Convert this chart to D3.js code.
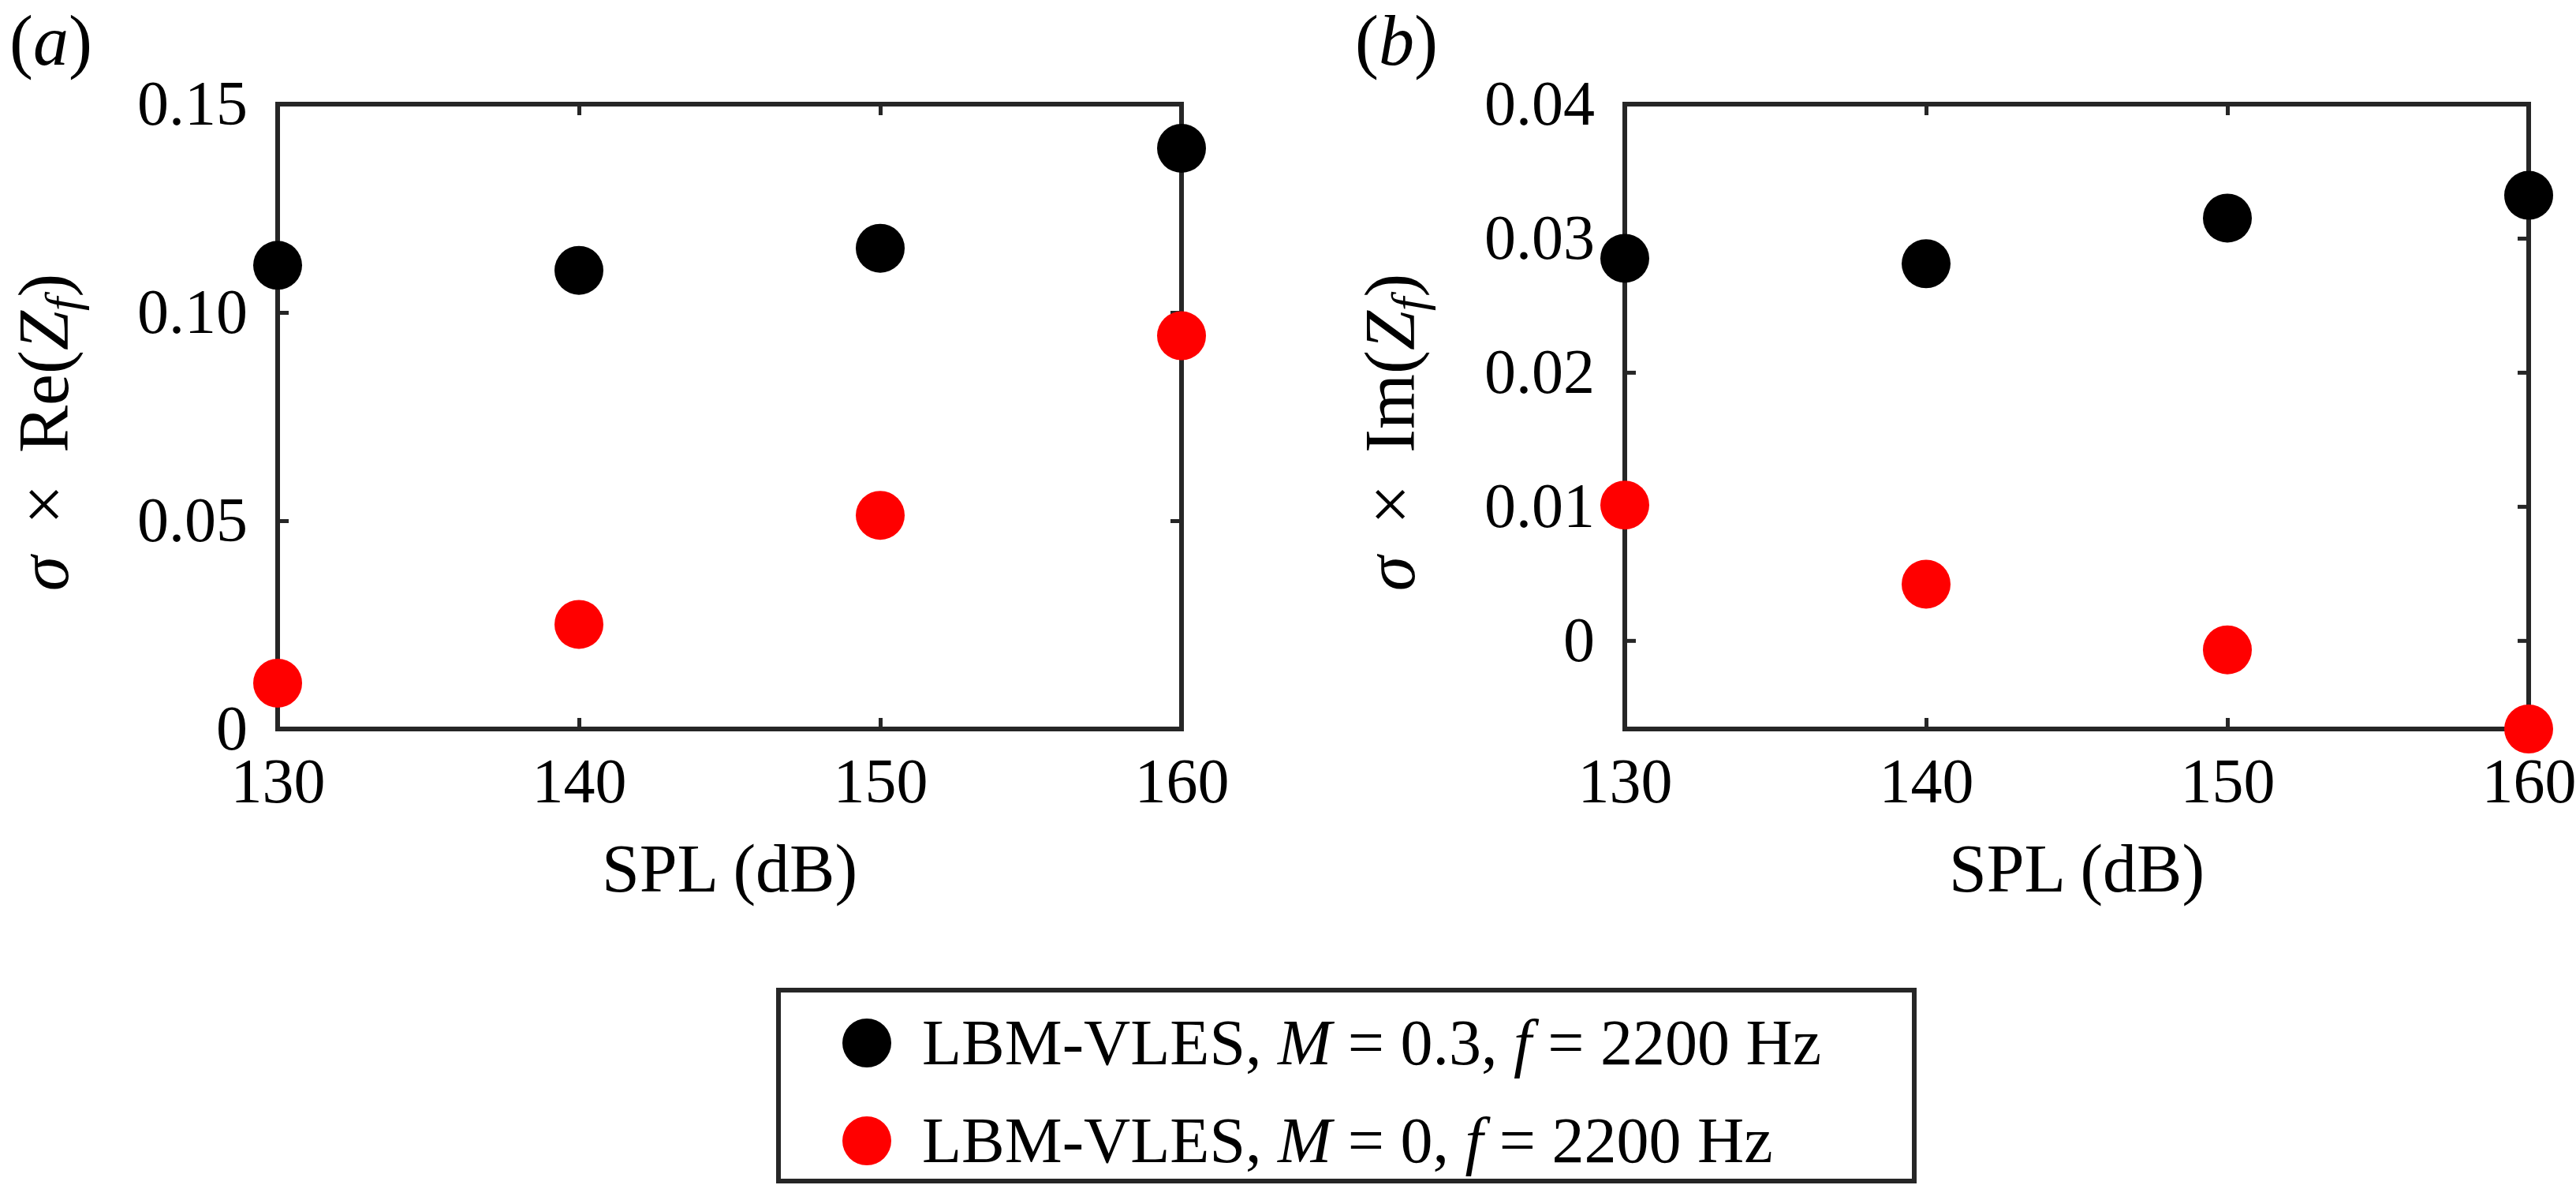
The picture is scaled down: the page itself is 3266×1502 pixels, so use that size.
<!DOCTYPE html>
<html><head><meta charset="utf-8">
<script src="https://cdn.jsdelivr.net/npm/d3@7"></script>
<style>
html,body{margin:0;padding:0;background:#fff;}
svg{display:block;font-family:"Liberation Serif","Times New Roman",serif;}
</style></head>
<body>
<svg id="chart" width="3266" height="1502"></svg>
<script>
// ---- data ----
const spl = [130, 140, 150, 160];
const reBlack = [0.1113, 0.1101, 0.1154, 0.1394];
const reRed = [0.0110, 0.0251, 0.0513, 0.0944];
const imBlack = [0.0285, 0.0281, 0.0315, 0.0332];
const imRed = [0.0101, 0.0042, -0.0007, -0.0066];
const xTicks = [130, 140, 150, 160];
const yTicksA = [0, 0.05, 0.10, 0.15];
const yTickLabelsA = ["0", "0.05", "0.10", "0.15"];
const yTicksB = [0, 0.01, 0.02, 0.03, 0.04];
const yTickLabelsB = ["0", "0.01", "0.02", "0.03", "0.04"];
const legendLabels = [
  [["LBM-VLES, ", false], ["M", true], [" = 0.3, ", false], ["f", true], [" = 2200 Hz", false]],
  [["LBM-VLES, ", false], ["M", true], [" = 0, ", false], ["f", true], [" = 2200 Hz", false]]
];
const seriesColors = ["#000000", "#ff0000"];

const svg = d3.select("#chart");
const axisColor = "#262626";
const R = 31;

function panel(opt) {
  const {x0, x1, y0, y1, yDomain, yTicks, yLabels, black, red, tag, tagX, ylabParts, ylabX} = opt;
  const x = d3.scaleLinear().domain([130, 160]).range([x0, x1]);
  const y = d3.scaleLinear().domain(yDomain).range([y1, y0]);
  const g = svg.append("g");

  g.append("rect").attr("x", x0).attr("y", y0).attr("width", x1 - x0).attr("height", y1 - y0)
    .attr("fill", "none").attr("stroke", axisColor).attr("stroke-width", 6);

  const style = sel => {
    sel.select(".domain").remove();
    sel.selectAll(".tick line").attr("stroke", axisColor).attr("stroke-width", 5);
    sel.selectAll(".tick text").attr("fill", "#000").attr("font-size", 80)
      .attr("font-family", "'Liberation Serif','Times New Roman',serif");
  };
  g.append("g").attr("transform", `translate(0,${y1})`)
    .call(d3.axisBottom(x).tickValues(xTicks).tickFormat(d3.format("d")).tickSize(-14).tickPadding(36)).call(style);
  g.append("g").attr("transform", `translate(0,${y0})`)
    .call(d3.axisTop(x).tickValues(xTicks).tickFormat("").tickSize(-14)).call(style);
  g.append("g").attr("transform", `translate(${x0},0)`)
    .call(d3.axisLeft(y).tickValues(yTicks).tickFormat((d, i) => yLabels[i]).tickSize(-14).tickPadding(38)).call(style);
  g.append("g").attr("transform", `translate(${x1},0)`)
    .call(d3.axisRight(y).tickValues(yTicks).tickFormat("").tickSize(-14)).call(style);

  [black, red].forEach((vals, si) => {
    g.selectAll(null).data(spl.map((s, i) => [s, vals[i]])).enter().append("circle")
      .attr("cx", d => x(d[0])).attr("cy", d => y(d[1])).attr("r", R)
      .attr("fill", seriesColors[si]);
  });

  g.append("text").attr("x", (x0 + x1) / 2).attr("y", 1130).attr("text-anchor", "middle")
    .attr("font-size", 86).text("SPL (dB)");

  const yl = g.append("text").attr("transform", `translate(${ylabX},${(y0 + y1) / 2 + 20}) rotate(-90)`)
    .attr("text-anchor", "middle").attr("font-size", 90);
  ylabParts.forEach(p => {
    const t = yl.append("tspan").text(p[0]);
    if (p[1]) t.attr("font-style", "italic");
    if (p[2]) t.attr("font-size", 62).attr("dy", 14);
    if (p[3]) t.attr("dy", -14);
    if (p[4]) t.attr("dx", p[4]);
  });

  const tg = g.append("text").attr("x", tagX).attr("y", 82).attr("font-size", 90);
  tg.append("tspan").text("(");
  tg.append("tspan").text(tag).attr("font-style", "italic");
  tg.append("tspan").text(")");
}

panel({x0: 352, x1: 1498, y0: 132, y1: 924, yDomain: [0, 0.15], yTicks: yTicksA, yLabels: yTickLabelsA,
  black: reBlack, red: reRed, tag: "a", tagX: 12, ylabX: 86,
  ylabParts: [["σ", true], ["×", false, false, false, 40], ["Re(", false, false, false, 40], ["Z", true], ["f", true, true], [")", false, false, true]]});
panel({x0: 2060, x1: 3206, y0: 132, y1: 924, yDomain: [-0.0066, 0.04], yTicks: yTicksB, yLabels: yTickLabelsB,
  black: imBlack, red: imRed, tag: "b", tagX: 1718, ylabX: 1793,
  ylabParts: [["σ", true], ["×", false, false, false, 40], ["Im(", false, false, false, 40], ["Z", true], ["f", true, true], [")", false, false, true]]});

const lg = svg.append("g");
lg.append("rect").attr("x", 987).attr("y", 1255).attr("width", 2427 - 987).attr("height", 1497 - 1255)
  .attr("fill", "#fff").attr("stroke", axisColor).attr("stroke-width", 6);
const legY = [1322, 1446];
legendLabels.forEach((parts, i) => {
  lg.append("circle").attr("cx", 1099).attr("cy", legY[i]).attr("r", R).attr("fill", seriesColors[i]);
  const t = lg.append("text").attr("x", 1169).attr("y", legY[i] + 27).attr("font-size", 82);
  parts.forEach(p => {
    const s = t.append("tspan").text(p[0]);
    if (p[1]) s.attr("font-style", "italic");
  });
});
</script>
</body></html>
